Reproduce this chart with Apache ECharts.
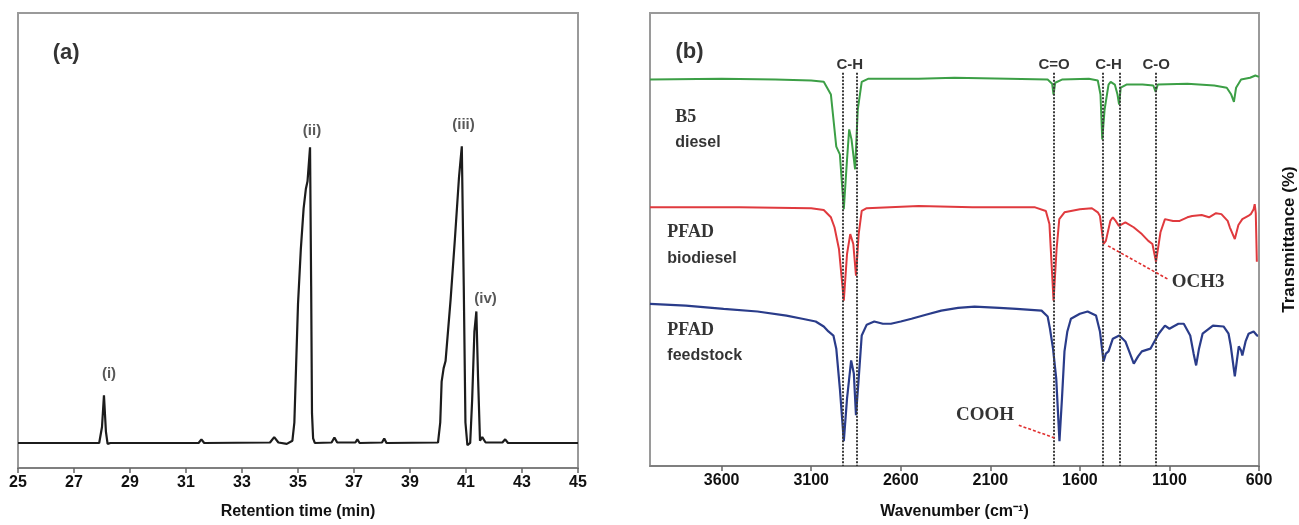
<!DOCTYPE html>
<html><head><meta charset="utf-8">
<script src="https://cdn.jsdelivr.net/npm/echarts@6/dist/echarts.min.js"></script>
<style>html,body{margin:0;padding:0;background:#fff}#c{width:1299px;height:525px}</style>
</head><body><div id="c"></div>
<script>
// ---------- Panel (a): GC chromatogram ----------
const rtTicks = [25, 27, 29, 31, 33, 35, 37, 39, 41, 43, 45];
const rtTime = [25, 27.9, 28.0, 28.07, 28.14, 28.2, 28.3, 31.45, 31.55, 31.65, 34.0, 34.15, 34.3, 34.6, 34.8, 34.87, 34.93, 35.0, 35.1, 35.2, 35.28, 35.34, 35.43, 35.47, 35.5, 35.54, 35.6,
  36.2, 36.3, 36.4, 37.05, 37.12, 37.2, 38.0, 38.08, 38.16, 40.0, 40.08, 40.13, 40.2, 40.27, 40.45, 40.6, 40.75, 40.85, 40.92, 40.98, 41.05, 41.15, 41.22, 41.3, 41.37, 41.43, 41.5, 41.58, 41.7, 42.3, 42.4, 42.5, 43, 45];
const rtSignal = [5.5, 5.5, 9, 16.0, 8, 5.3, 5.5, 5.5, 6.3, 5.5, 5.6, 6.8, 5.6, 5.3, 6.0, 10, 22, 36, 48, 57, 61.3, 63, 70.5, 40, 12, 6.5, 5.5,
  5.6, 6.7, 5.6, 5.6, 6.3, 5.5, 5.6, 6.5, 5.5, 5.6, 10, 19, 21.9, 23.5, 37, 50, 63.9, 70.7, 40, 10, 5.0, 5.5, 15, 30, 34.4, 20, 6, 6.8, 5.6, 5.6, 6.3, 5.5, 5.5, 5.5];
const peakNames = ['(i)', '(ii)', '(iii)', '(iv)'];
const peakLabelRt = [28.25, 35.5, 40.91, 41.7];
const peakLabelY = [20.8, 74.0, 75.5, 37.2];

// ---------- Panel (b): FTIR spectra ----------
const wnTicks = [600, 1100, 1600, 2100, 2600, 3100, 3600];
const b5Wn = [4000, 3600, 3300, 3100, 3030, 2990, 2960, 2940, 2918, 2900, 2888, 2875, 2855, 2840, 2818, 2780, 2500, 2300, 2000, 1780, 1755, 1747, 1738, 1700, 1550, 1500, 1485, 1475, 1462, 1440, 1428, 1405, 1390, 1381, 1372, 1340, 1250, 1190, 1177, 1165, 1000, 850, 780, 755, 740, 728, 700, 650, 620, 600];
const b5T = [85.3, 85.5, 85.3, 85.1, 84.8, 82.0, 70.5, 68.8, 56.7, 67.7, 74.3, 72.1, 65.5, 78.7, 84.8, 85.5, 85.5, 85.7, 85.5, 85.3, 84.4, 82.0, 84.6, 85.3, 85.5, 85.1, 82.0, 72.1, 78.7, 84.2, 84.8, 84.2, 82.0, 79.8, 83.5, 84.2, 84.2, 84.0, 82.6, 84.2, 84.4, 84.0, 83.5, 82.0, 80.4, 83.5, 85.3, 85.7, 86.2, 85.9];
const bioWn = [4000, 3500, 3100, 3030, 2990, 2970, 2945, 2918, 2900, 2882, 2865, 2850, 2835, 2818, 2790, 2500, 2200, 1850, 1790, 1770, 1747, 1730, 1715, 1686, 1600, 1533, 1500, 1488, 1468, 1455, 1445, 1430, 1416, 1400, 1382, 1346, 1300, 1254, 1218, 1195, 1175, 1160, 1150, 1125, 1080, 1043, 1000, 973, 920, 879, 840, 810, 775, 763, 735, 715, 693, 660, 646, 630, 624, 618, 612];
const bioT = [57.1, 57.1, 56.9, 56.5, 54.9, 52.7, 47.9, 36.5, 46.8, 51.2, 49.0, 42.0, 51.2, 56.3, 56.9, 57.4, 57.1, 57.1, 56.3, 53.4, 36.5, 47.9, 54.5, 56.0, 56.7, 56.9, 56.0, 55.2, 49.0, 49.7, 50.1, 54.1, 54.9, 54.1, 53.0, 53.8, 52.7, 51.2, 49.7, 49.0, 45.1, 49.0, 51.6, 54.5, 54.1, 54.1, 54.9, 55.2, 55.4, 54.9, 55.8, 55.6, 54.1, 52.7, 50.1, 53.2, 54.5, 55.2, 55.6, 56.7, 57.8, 55.8, 45.1];
const feedWn = [4000, 3800, 3589, 3400, 3238, 3150, 3075, 3030, 3004, 2976, 2960, 2940, 2918, 2900, 2877, 2862, 2850, 2835, 2818, 2790, 2748, 2700, 2655, 2600, 2540, 2460, 2374, 2280, 2188, 2050, 1954, 1814, 1780, 1767, 1750, 1732, 1714, 1700, 1686, 1670, 1650, 1600, 1557, 1510, 1488, 1468, 1455, 1440, 1416, 1380, 1346, 1320, 1299, 1275, 1254, 1206, 1160, 1125, 1100, 1078, 1050, 1020, 984, 965, 951, 935, 915, 857, 798, 770, 758, 735, 713, 700, 693, 675, 658, 630, 611, 605];
const feedT = [35.8, 35.4, 34.7, 34.1, 33.2, 32.5, 31.9, 30.8, 29.7, 28.8, 25.9, 17.1, 5.5, 14.9, 23.3, 20.4, 11.2, 19.3, 28.8, 31.2, 31.9, 31.4, 31.4, 31.9, 32.5, 33.4, 34.3, 34.9, 35.2, 34.9, 34.7, 34.3, 33.0, 30.3, 25.9, 19.3, 5.5, 14.9, 25.3, 29.7, 32.5, 33.6, 34.1, 33.2, 29.7, 23.1, 24.8, 25.3, 28.1, 28.8, 27.5, 24.8, 22.6, 24.2, 25.3, 25.9, 29.2, 31.0, 30.3, 30.8, 31.4, 31.4, 28.8, 24.8, 22.2, 25.9, 29.2, 31.0, 30.8, 29.2, 26.6, 19.8, 26.4, 25.5, 24.4, 27.5, 29.2, 29.7, 28.8, 28.8];

const bandNames = ['C-H', 'C=O', 'C-H', 'C-O'];
const bandLabelWn = [2885, 1744, 1440, 1174];
const bandLabelT = 88.6;
const bandLineWn = [2923, 2848, 1744, 1473, 1380, 1174];
const bandLineTop = 86.8;
const sampleNames = ['B5', 'diesel', 'PFAD', 'biodiesel', 'PFAD', 'feedstock'];
const sampleSerif = [true, false, true, false, true, false];
const sampleWn = [3862, 3862, 3906, 3906, 3906, 3906];
const sampleT = [76.9, 71.4, 51.6, 45.7, 29.9, 24.4];
const groupNames = ['OCH3', 'COOH'];
const groupWn = [940, 2130];
const groupT = [40.7, 11.2];
const leaderFrom = [[1443, 48.6], [1941, 9.0]];
const leaderTo = [[1111, 41.3], [1742, 6.2]];

// ---------- build ----------
const SANS = '"Liberation Sans", Arial, sans-serif';
const SERIF = '"Liberation Serif", "Times New Roman", serif';
const zip = (a, b) => a.map((v, i) => [v, b[i]]);

const textSeries = (xi, items) => ({
  type: 'scatter', xAxisIndex: xi, yAxisIndex: xi, silent: true, z: 10,
  symbolSize: 1, itemStyle: { color: 'transparent' },
  label: { show: true, position: 'inside', textBorderWidth: 0, formatter: p => p.data.txt },
  data: items
});

const axisCommon = {
  splitLine: { show: false },
  axisTick: { show: true, inside: false, length: 5, lineStyle: { color: '#666', width: 1.5 } },
  axisLine: { show: true, lineStyle: { color: '#777', width: 1.5 } },
  axisLabel: { color: '#111', fontFamily: SANS, fontWeight: 'bold', fontSize: 16, margin: 7, formatter: v => String(v) },
  nameTextStyle: { color: '#111', fontFamily: SANS, fontWeight: 'bold', fontSize: 16 }
};

const option = {
  backgroundColor: '#fff',
  animation: false,
  grid: [
    { left: 18, right: 721, top: 13, bottom: 55, show: true, borderColor: '#9a9a9a', borderWidth: 2, backgroundColor: 'transparent' },
    { left: 650, right: 35, top: 13, bottom: 57, show: true, borderColor: '#9a9a9a', borderWidth: 2, backgroundColor: 'transparent' }
  ],
  xAxis: [
    Object.assign({}, axisCommon, {
      gridIndex: 0, type: 'value', min: 25, max: 45,
      name: 'Retention time (min)', nameLocation: 'middle', nameGap: 36,
      axisTick: Object.assign({}, axisCommon.axisTick, { customValues: rtTicks }),
      axisLabel: Object.assign({}, axisCommon.axisLabel, { customValues: rtTicks })
    }),
    Object.assign({}, axisCommon, {
      gridIndex: 1, type: 'value', min: 600, max: 4000, inverse: true,
      name: 'Wavenumber (cm⁻¹)', nameLocation: 'middle', nameGap: 38,
      axisTick: Object.assign({}, axisCommon.axisTick, { customValues: wnTicks }),
      axisLabel: Object.assign({}, axisCommon.axisLabel, { customValues: wnTicks })
    })
  ],
  yAxis: [
    { gridIndex: 0, type: 'value', min: 0, max: 100, show: true,
      axisLine: { show: false }, axisTick: { show: false }, axisLabel: { show: false }, splitLine: { show: false } },
    { gridIndex: 1, type: 'value', min: 0, max: 100, position: 'right',
      name: 'Transmittance (%)', nameLocation: 'middle', nameRotate: 90, nameGap: 22,
      nameTextStyle: { color: '#111', fontFamily: SANS, fontWeight: 'bold', fontSize: 17 },
      axisLine: { show: false }, axisTick: { show: false }, axisLabel: { show: false }, splitLine: { show: false } }
  ],
  series: [
    { type: 'line', name: 'GC', xAxisIndex: 0, yAxisIndex: 0, showSymbol: false, silent: true,
      lineStyle: { color: '#1c1c1c', width: 2.2 }, data: zip(rtTime, rtSignal) },
    textSeries(0, peakNames.map((n, i) => ({ value: [peakLabelRt[i], peakLabelY[i]], txt: n,
      label: { fontFamily: SANS, fontWeight: 'bold', fontSize: 15, color: '#2e2e2e' } }))
      .concat([{ value: [26.72, 91.2], txt: '(a)', label: { fontFamily: SANS, fontWeight: 'bold', fontSize: 22, color: '#000' } }])),

    { type: 'line', name: 'B5 diesel', xAxisIndex: 1, yAxisIndex: 1, showSymbol: false, silent: true,
      lineStyle: { color: '#3c9f46', width: 2 }, data: zip(b5Wn, b5T) },
    { type: 'line', name: 'PFAD biodiesel', xAxisIndex: 1, yAxisIndex: 1, showSymbol: false, silent: true,
      lineStyle: { color: '#e03a3e', width: 2 }, data: zip(bioWn, bioT) },
    { type: 'line', name: 'PFAD feedstock', xAxisIndex: 1, yAxisIndex: 1, showSymbol: false, silent: true,
      lineStyle: { color: '#2a3c8a', width: 2.2 }, data: zip(feedWn, feedT) },
    Object.assign(textSeries(1,
      bandNames.map((n, i) => ({ value: [bandLabelWn[i], bandLabelT], txt: n,
        label: { fontFamily: SANS, fontWeight: 'bold', fontSize: 15, color: '#000' } }))
      .concat(sampleNames.map((n, i) => ({ value: [sampleWn[i], sampleT[i]], txt: n,
        label: { position: 'right', distance: 0, fontFamily: sampleSerif[i] ? SERIF : SANS, fontWeight: 'bold',
          fontSize: sampleSerif[i] ? 18 : 16, color: '#000' } })))
      .concat(groupNames.map((n, i) => ({ value: [groupWn[i], groupT[i]], txt: n,
        label: { fontFamily: SERIF, fontWeight: 'bold', fontSize: 19, color: '#000' } })))
      .concat([{ value: [3779, 91.4], txt: '(b)', label: { fontFamily: SANS, fontWeight: 'bold', fontSize: 22, color: '#000' } }])
    ), {
      markLine: {
        silent: true, symbol: 'none', label: { show: false },
        data: bandLineWn.map(w => [
          { coord: [w, bandLineTop], lineStyle: { color: '#3a3a3a', width: 2, type: [2, 1.5] } },
          { coord: [w, 0] }
        ]).concat(leaderFrom.map((f, i) => [
          { coord: f, lineStyle: { color: '#e03030', width: 1.6, type: [3, 2] } },
          { coord: leaderTo[i] }
        ]))
      }
    })
  ]
};

const chart = echarts.init(document.getElementById('c'), null, { renderer: 'canvas' });
chart.setOption(option);
</script></body></html>
